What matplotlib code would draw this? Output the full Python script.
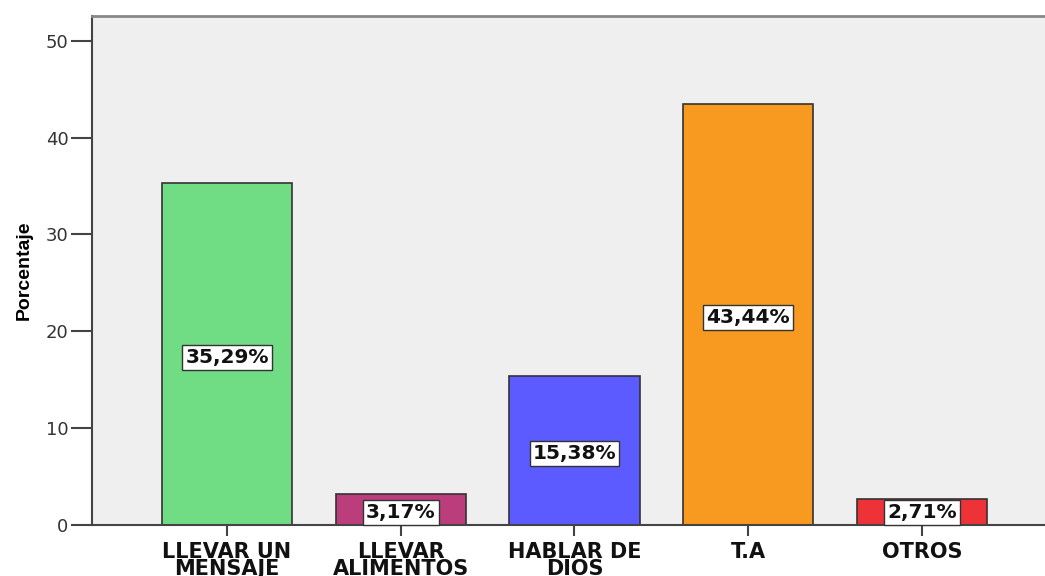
import matplotlib.pyplot as plt

# data
categorias = ['LLEVAR UN\nMENSAJE', 'LLEVAR\nALIMENTOS', 'HABLAR DE\nDIOS', 'T.A', 'OTROS']
porcentajes = [35.29, 3.17, 15.38, 43.44, 2.71]
etiquetas = ['35,29%', '3,17%', '15,38%', '43,44%', '2,71%']
colores = ['#70DC84', '#BC3D7C', '#5B5BFF', '#F89A1F', '#EE3338']

plt.rcParams['font.family'] = ['DejaVu Sans']

fig = plt.figure(figsize=(10.45, 5.76), dpi=100)
ax = fig.add_axes([0.088, 0.0885, 0.912, 0.8845])
ax.set_facecolor('#EFEFEF')

x = range(len(categorias))
ax.bar(x, porcentajes, width=0.75, color=colores, edgecolor='#333333', linewidth=1.2, zorder=2)

for i, (v, t) in enumerate(zip(porcentajes, etiquetas)):
    ypos = max(v / 2 - 0.3, 1.25)
    ax.text(i, ypos, t, ha='center', va='center', fontsize=14.5, fontweight='bold',
            color='#111111', zorder=3, clip_on=False,
            bbox=dict(boxstyle='square,pad=0.15', facecolor='white', edgecolor='#333333', linewidth=1))

ax.set_xlim(-0.777, 4.708)
ax.set_ylim(0, 52.6)
ax.set_yticks([0, 10, 20, 30, 40, 50])
ax.set_xticks(list(x))
ax.set_xticklabels(categorias, fontsize=15, fontweight='bold', color='#111111', linespacing=0.85)
ax.tick_params(axis='y', length=15, width=1.5, color='#444444', labelsize=13, labelcolor='#333333', pad=2)
ax.tick_params(axis='x', length=8, width=1.5, color='#444444', pad=4)

ax.spines['left'].set_color('#444444')
ax.spines['left'].set_linewidth(1.5)
ax.spines['bottom'].set_color('#444444')
ax.spines['bottom'].set_linewidth(1.5)
ax.spines['top'].set_color('#888888')
ax.spines['top'].set_linewidth(2)
ax.spines['right'].set_visible(False)

ax.set_ylabel('Porcentaje', fontsize=14, fontweight='bold',
              family=['Liberation Sans', 'DejaVu Sans'], labelpad=9)

fig.savefig('out.png', dpi=100)
